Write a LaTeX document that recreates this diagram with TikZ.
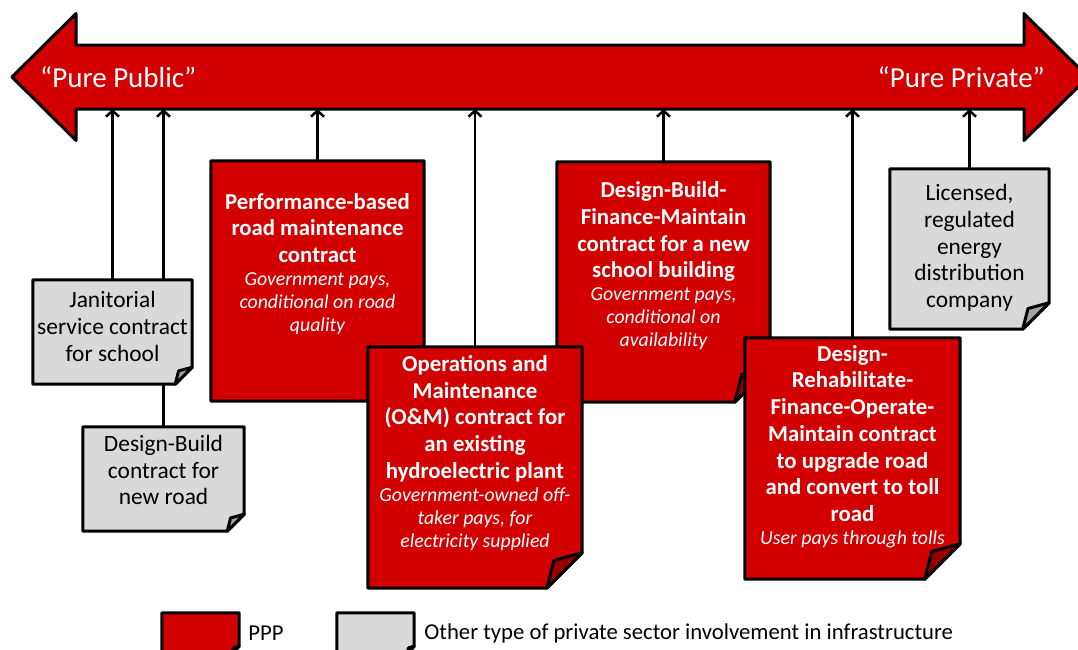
\documentclass[tikz,border=0pt]{standalone}
\usepackage{fontspec}
\setmainfont{Carlito}
\usetikzlibrary{positioning,arrows.meta,backgrounds}

\definecolor{pppred}{RGB}{210,0,0}
\definecolor{pppfold}{RGB}{150,0,0}
\definecolor{othergray}{RGB}{217,217,217}
\definecolor{otherfold}{RGB}{165,165,165}

\newcommand{\headfont}{\fontsize{22.8}{26.7}\selectfont\bfseries}
\newcommand{\notefont}{\fontsize{19.8}{23}\selectfont\itshape}

% box outline with folded corner: node, fill, fold fill, fold size
\newcommand{\notebox}[4]{%
	\filldraw[boxline, fill=#2] (#1.north west) -- (#1.north east) -- ([yshift=#4]#1.south east) -- ([xshift=-#4]#1.south east) -- (#1.south west) -- cycle;
	\filldraw[boxline, fill=#3] ([xshift=-#4]#1.south east) -- ([xshift=-0.8*#4, yshift=0.78*#4]#1.south east) -- ([yshift=#4]#1.south east) -- cycle;
}

\begin{document}
\begin{tikzpicture}[x=1pt, y=-1pt,
	box/.style={rectangle, inner sep=0pt},
	ppptext/.style={text=white, align=flush center, inner sep=0pt, text width=210pt},
	othertext/.style={text=black, align=flush center, inner sep=0pt, text width=157pt, font=\fontsize{23.4}{26.7}\selectfont},
	bartext/.style={text=white, inner sep=0pt, font=\fontsize{29}{34}\selectfont},
	legtext/.style={inner sep=0pt, font=\fontsize{22.7}{26}\selectfont},
	boxline/.style={line width=3pt, draw=black, line join=round},
	up/.style={line width=2.5pt, -{Straight Barb[length=6pt,width=13pt]}}
	]

	\useasboundingbox (0,0) rectangle (1078,649);

	\coordinate (barline) at (0,109);
	\node (public) [bartext, anchor=west] at (40,77) {“Pure Public”};
	\node (private) [bartext, anchor=east] at (1045,77) {“Pure Private”};

	% other types
	\node (jan) [box, minimum width=159pt, minimum height=104pt] at (112.5,332) {};
		\node (jan-t) [othertext] at ([yshift=5.5pt]jan.center) {Janitorial\\service contract\\for school};
	\node (db) [box, minimum width=161pt, minimum height=104pt] at (163.5,479) {};
		\node (db-t) [othertext] at ([yshift=9pt]db.center) {Design-Build\\contract for\\new road};
	\node (lic) [box, minimum width=159pt, minimum height=160pt] at (969.5,249) {};
		\node (lic-t) [othertext] at ([yshift=1pt]lic.center) {Licensed,\\regulated\\energy\\distribution\\company};

	% PPP
	\node (perf) [box, minimum width=213pt, minimum height=240pt] at (317.5,281) {};
		\node (perf-t) [ppptext] at ([yshift=17pt]perf.center) {{\headfont Performance-based\\road maintenance\\contract\par}{\notefont Government pays,\\conditional on road\\quality\par}};
	\node (dbfm) [box, minimum width=213pt, minimum height=240pt] at (663.5,282) {};
		\node (dbfm-t) [ppptext] at ([yshift=16pt]dbfm.center) {{\headfont Design-Build-\\Finance-Maintain\\contract for a new\\school building\par}{\notefont Government pays,\\conditional on\\availability\par}};
	\node (om) [box, minimum width=214pt, minimum height=241pt] at (475,467.5) {};
		\node (om-t) [ppptext] at ([yshift=14.5pt]om.center) {{\headfont Operations and\\Maintenance\\(O\&M) contract for\\an existing\\hydroelectric plant\par}{\notefont Government-owned off-\\taker pays, for\\electricity supplied\par}};
	\node (drfom) [box, minimum width=215pt, minimum height=241pt] at (852.5,458.5) {};
		\node (drfom-t) [ppptext] at ([yshift=12pt]drfom.center) {{\headfont Design-\\Rehabilitate-\\Finance-Operate-\\Maintain contract\\to upgrade road\\and convert to toll\\road\par}{\notefont User pays through tolls\par}};

	% legend
	\node (legppp) [box, minimum width=77pt, minimum height=40pt] at (200.5,633) {};
	\node (legppp-t) [legtext, right=9pt of legppp] {PPP};
	\node (legother) [box, minimum width=77pt, minimum height=40pt] at (375.5,633) {};
	\node (legother-t) [legtext, right=10pt of legother] {Other type of private sector involvement in infrastructure};

	\begin{pgfonlayer}{background}
		\filldraw[boxline, fill=pppred] (12,77) -- (76,13.5) -- (76,45) -- (1024,45) -- (1024,13.5) -- (1088,77) -- (1024,140.5) -- (1024,109) -- (76,109) -- (76,140.5) -- cycle;

		\draw [up] (jan.north) -- (jan.north |- barline);
		\draw [up] (db.north) -- (db.north |- barline);
		\draw [up] (perf.north) -- (perf.north |- barline);
		\draw [up] (om.north) -- (om.north |- barline);
		\draw [up] (dbfm.north) -- (dbfm.north |- barline);
		\draw [up] (drfom.north) -- (drfom.north |- barline);
		\draw [up] (lic.north) -- (lic.north |- barline);

		\notebox{jan}{othergray}{otherfold}{17pt}
		\notebox{db}{othergray}{otherfold}{17pt}
		\notebox{lic}{othergray}{otherfold}{26.5pt}
		\notebox{perf}{pppred}{pppfold}{35.5pt}
		\notebox{dbfm}{pppred}{pppfold}{35.5pt}
		\notebox{om}{pppred}{pppfold}{35.5pt}
		\notebox{drfom}{pppred}{pppfold}{35.5pt}
		\notebox{legppp}{pppred}{pppfold}{7pt}
		\notebox{legother}{othergray}{otherfold}{7pt}
	\end{pgfonlayer}

\end{tikzpicture}
\end{document}
